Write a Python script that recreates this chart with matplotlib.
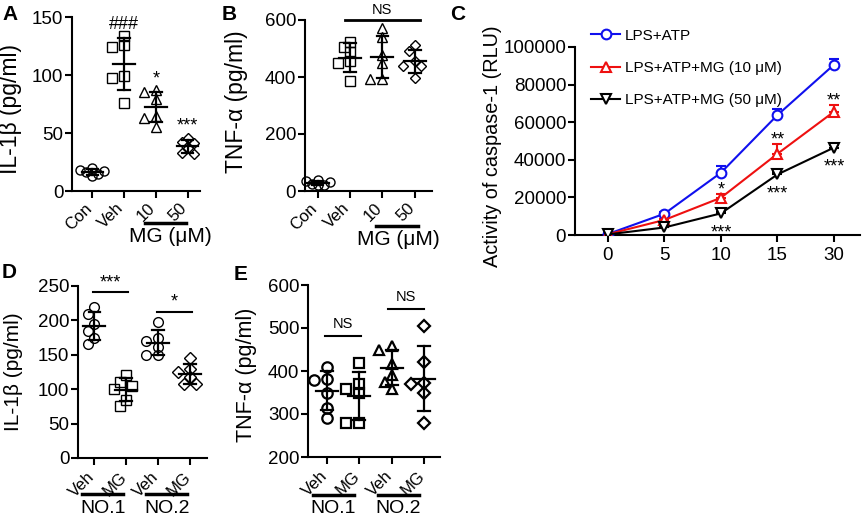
import numpy as np
import matplotlib
matplotlib.use("Agg")
import matplotlib.pyplot as plt
from matplotlib.transforms import ScaledTranslation, blended_transform_factory

plt.rcParams['font.family'] = ['Liberation Sans', 'DejaVu Sans']
plt.rcParams['axes.linewidth'] = 1.5

# ---------------- data ----------------
a_cats = ['Con', 'Veh', '10', '50']
a_con = [20, 17, 15, 18, 13, 16]
a_veh = [134, 126, 124, 99, 97, 76]
a_mg10 = [87, 85, 79, 65, 63, 55]
a_mg50 = [46, 42, 41, 37, 33, 32]
a_sig = ['', '###', '*', '***']

b_cats = ['Con', 'Veh', '10', '50']
b_con = [35, 40, 25, 20, 22, 30]
b_veh = [524, 506, 489, 457, 448, 386]
b_mg10 = [571, 540, 477, 450, 393, 393]
b_mg50 = [512, 490, 455, 440, 438, 398]

c_time = ['0', '5', '10', '15', '30']
c_lps = [500, 11300, 33100, 63800, 90600]
c_lps_sem = [300, 800, 3500, 3200, 3000]
c_mg10 = [400, 8000, 19800, 43200, 65600]
c_mg10_sem = [300, 700, 2000, 5000, 3600]
c_mg50 = [300, 4000, 11500, 32200, 46500]
c_mg50_sem = [200, 500, 800, 1500, 1500]
c_sig_mg10 = ['', '', '*', '**', '**']
c_sig_mg50 = ['', '', '***', '***', '***']
c_labels = ['LPS+ATP', 'LPS+ATP+MG (10 μM)', 'LPS+ATP+MG (50 μM)']

d_cats = ['Veh', 'MG', 'Veh', 'MG']
d_veh1 = [219, 210, 195, 185, 175, 165]
d_mg1 = [120, 110, 105, 100, 85, 75]
d_veh2 = [198, 175, 170, 162, 150, 150]
d_mg2 = [145, 130, 125, 118, 107, 107]
d_groups = ['NO.1', 'NO.2']

e_cats = ['Veh', 'MG', 'Veh', 'MG']
e_veh1 = [410, 382, 378, 350, 315, 290]
e_mg1 = [419, 369, 359, 348, 278, 278]
e_veh2 = [458, 450, 416, 390, 375, 357]
e_mg2 = [504, 421, 372, 369, 349, 279]
e_groups = ['NO.1', 'NO.2']

# ---------------- figure ----------------
W, H = 865, 519
fig = plt.figure(figsize=(W / 100, H / 100), dpi=100)


def add_ax(l, t, r, b):
    ax = fig.add_axes([l / W, 1 - b / H, (r - l) / W, (b - t) / H])
    for s in ('top', 'right'):
        ax.spines[s].set_visible(False)
    ax.tick_params(direction='out', length=4.8, width=1.5, labelsize=13.5, pad=1.5)
    return ax


def swarm(ax, x0, vals, marker, ms=6, mew=1.0, step_px=5.5, dmin=6.5):
    # simple beeswarm computed in pixel space
    bb = ax.get_window_extent()
    x1, x2 = ax.get_xlim()
    y1, y2 = ax.get_ylim()
    sx = bb.width / (x2 - x1)
    sy = bb.height / (y2 - y1)
    placed = []
    xs, ys = [], []
    for v in sorted(vals, reverse=True):
        yp = v * sy
        best, bestd = 0.0, -1
        for k in [0, -1, 1, -2, 2]:
            xp = k * step_px
            dm = min([np.hypot(xp - px, yp - py) for px, py in placed] + [1e9])
            if dm >= dmin:
                best = xp
                break
            if dm > bestd:
                best, bestd = xp, dm
        placed.append((best, yp))
        xs.append(x0 + best / sx)
        ys.append(v)
    ax.plot(xs, ys, linestyle='none', marker=marker, ms=ms, mfc='none',
            mec='black', mew=mew, clip_on=False, zorder=3)
    m = np.mean(vals)
    sd = np.std(vals, ddof=1)
    ax.plot([x0 - 0.34, x0 + 0.34], [m, m], color='black', lw=1.6, zorder=4)
    ax.plot([x0, x0], [m - sd, m + sd], color='black', lw=1.6, zorder=4)
    for y in (m - sd, m + sd):
        ax.plot([x0 - 0.18, x0 + 0.18], [y, y], color='black', lw=1.6, zorder=4)


def rot_labels(ax, labels, dx_px=-3, dy_px=-6, size=12):
    ax.set_xticks(range(len(labels)))
    ax.set_xticklabels(labels, rotation=45, ha='right', va='center',
                       rotation_mode='anchor', fontsize=size)
    off = ScaledTranslation(dx_px / 100, dy_px / 100, fig.dpi_scale_trans)
    for lab in ax.get_xticklabels():
        lab.set_transform(lab.get_transform() + off)


def under_line(ax, xa, xb, y_axes, lw=2.5):
    tr = blended_transform_factory(ax.transData, ax.transAxes)
    ax.plot([xa, xb], [y_axes, y_axes], color='black', lw=lw, transform=tr, clip_on=False)


def under_text(ax, x, y_axes, s, size=15):
    tr = blended_transform_factory(ax.transData, ax.transAxes)
    ax.text(x, y_axes, s, transform=tr, ha='center', va='center', fontsize=size)


# ---------------- Panel A ----------------
axA = add_ax(72, 17, 200, 191)
axA.set_xlim(-0.64, 3.39)
axA.set_ylim(0, 150)
axA.set_yticks([0, 50, 100, 150])
a_groups = [a_con, a_veh, a_mg10, a_mg50]
for i, (vals, mk) in enumerate(zip(a_groups, ['o', 's', '^', 'D'])):
    swarm(axA, i, vals, mk, ms=6.5 if mk != 'D' else 5.5, step_px=6, dmin=7.5)
for i, s in enumerate(a_sig):
    if s:
        axA.annotate(s, (i, max(a_groups[i])), xytext=(0, 2), textcoords='offset points',
                     ha='center', va='bottom', fontsize=13, annotation_clip=False)
rot_labels(axA, a_cats)
axA.set_ylabel('IL-1β (pg/ml)', fontsize=16.5)
axA.yaxis.set_label_coords(-0.39, 0.47)
under_line(axA, 1.65, 2.95, -0.185)
under_text(axA, 2.45, -0.26, 'MG (μM)')
fig.text(10 / W, 1 - 14 / H, 'A', fontsize=15, fontweight='bold', ha='center', va='center')

# ---------------- Panel B ----------------
axB = add_ax(305, 20, 432, 191)
axB.set_xlim(-0.39, 3.53)
axB.set_ylim(0, 600)
axB.set_yticks([0, 200, 400, 600])
for i, (vals, mk) in enumerate(zip([b_con, b_veh, b_mg10, b_mg50], ['o', 's', '^', 'D'])):
    swarm(axB, i, vals, mk, ms=6.5 if mk != 'D' else 5.5, step_px=6, dmin=7.5)
rot_labels(axB, b_cats)
axB.set_ylabel('TNF-α (pg/ml)', fontsize=16.5)
axB.yaxis.set_label_coords(-0.45, 0.52)
trB = blended_transform_factory(axB.transData, axB.transAxes)
axB.plot([0.85, 3.15], [1.0, 1.0], color='black', lw=2, transform=trB, clip_on=False)
axB.text(2.0, 1.02, 'NS', transform=trB, ha='center', va='bottom', fontsize=10.5)
under_line(axB, 1.8, 3.1, -0.205)
under_text(axB, 2.5, -0.285, 'MG (μM)')
fig.text(229 / W, 1 - 14 / H, 'B', fontsize=15, fontweight='bold', ha='center', va='center')

# ---------------- Panel C ----------------
axC = add_ax(575, 47, 860, 235)
axC.set_xlim(-0.58, 4.46)
axC.set_ylim(0, 100000)
axC.set_yticks(range(0, 100001, 20000))
axC.tick_params(axis='x', pad=4)
xc = np.arange(len(c_time))
series = [(c_lps, c_lps_sem, 'o', '#1010ee'),
          (c_mg10, c_mg10_sem, '^', '#ee1010'),
          (c_mg50, c_mg50_sem, 'v', 'black')]
handles = []
for (vals, sem, mk, col), lab in zip(series, c_labels):
    axC.errorbar(xc, vals, yerr=[np.zeros(len(sem)), sem], fmt='none', ecolor=col,
                 elinewidth=1.5, capsize=3.5, capthick=1.5, zorder=2)
    h, = axC.plot(xc, vals, color=col, lw=1.5, marker=mk, ms=7, mfc='white',
                  mec=col, mew=1.5, label=lab, zorder=3)
    handles.append(h)
for i, s in enumerate(c_sig_mg10):
    if s:
        axC.annotate(s, (i, c_mg10[i] + c_mg10_sem[i]), xytext=(0, -3), textcoords='offset points',
                     ha='center', va='bottom', fontsize=13)
for i, s in enumerate(c_sig_mg50):
    if s:
        axC.annotate(s, (i, c_mg50[i]), xytext=(0, -8), textcoords='offset points',
                     ha='center', va='top', fontsize=13)
axC.set_xticks(xc)
axC.set_xticklabels(c_time)
axC.set_ylabel('Activity of caspase-1 (RLU)', fontsize=14.3)
axC.yaxis.set_label_coords(-0.255, 0.47)
axC.legend(handles=handles, loc='upper left', bbox_to_anchor=(0.035, 1.13), frameon=False,
           fontsize=11, labelspacing=1.2, handlelength=1.9, handletextpad=0.3, borderaxespad=0)
fig.text(458 / W, 1 - 15 / H, 'C', fontsize=15, fontweight='bold', ha='center', va='center')

# ---------------- Panel D ----------------
axD = add_ax(78, 286, 207, 458)
axD.set_xlim(-0.51, 3.53)
axD.set_ylim(0, 250)
axD.set_yticks([0, 50, 100, 150, 200, 250])
for i, (vals, mk) in enumerate(zip([d_veh1, d_mg1, d_veh2, d_mg2], ['o', 's', 'o', 'D'])):
    swarm(axD, i, vals, mk, ms=7 if mk != 'D' else 6, step_px=6, dmin=8)
rot_labels(axD, d_cats, dx_px=-2, dy_px=-8)
axD.set_ylabel('IL-1β (pg/ml)', fontsize=15)
axD.yaxis.set_label_coords(-0.43, 0.50)
trD = blended_transform_factory(axD.transData, axD.transAxes)
for xa, xb, s, y in [(-0.05, 1.05, '***', 0.965), (1.95, 3.05, '*', 0.85)]:
    axD.plot([xa, xb], [y, y], color='black', lw=1.5, transform=trD, clip_on=False)
    axD.text((xa + xb) / 2, y + 0.005, s, transform=trD, ha='center', va='bottom', fontsize=13)
for k, g in enumerate(d_groups):
    under_line(axD, 2 * k - 0.38, 2 * k + 0.9, -0.212)
    under_text(axD, 2 * k + 0.27, -0.294, g, size=14)
fig.text(9 / W, 1 - 272 / H, 'D', fontsize=15, fontweight='bold', ha='center', va='center')

# ---------------- Panel E ----------------
axE = add_ax(308, 285, 440, 457)
axE.set_xlim(-0.58, 3.49)
axE.set_ylim(200, 600)
axE.set_yticks([200, 300, 400, 500, 600])
for i, (vals, mk) in enumerate(zip([e_veh1, e_mg1, e_veh2, e_mg2], ['o', 's', '^', 'D'])):
    swarm(axE, i, vals, mk, ms=7.5 if mk != 'D' else 6, mew=1.6, step_px=6.5, dmin=9)
rot_labels(axE, e_cats, dx_px=-2, dy_px=-8)
axE.set_ylabel('TNF-α (pg/ml)', fontsize=15.5)
axE.yaxis.set_label_coords(-0.39, 0.48)
trE = blended_transform_factory(axE.transData, axE.transAxes)
for xa, xb, y in [(-0.05, 1.05, 0.705), (1.9, 3.0, 0.86)]:
    axE.plot([xa, xb], [y, y], color='black', lw=1.5, transform=trE, clip_on=False)
    axE.text((xa + xb) / 2, y + 0.03, 'NS', transform=trE, ha='center', va='bottom', fontsize=10.5)
for k, g in enumerate(e_groups):
    under_line(axE, 2 * k - 0.42, 2 * k + 0.85, -0.222)
    under_text(axE, 2 * k + 0.2, -0.298, g, size=14)
fig.text(241 / W, 1 - 274 / H, 'E', fontsize=15, fontweight='bold', ha='center', va='center')

fig.savefig('out.png', dpi=100)
